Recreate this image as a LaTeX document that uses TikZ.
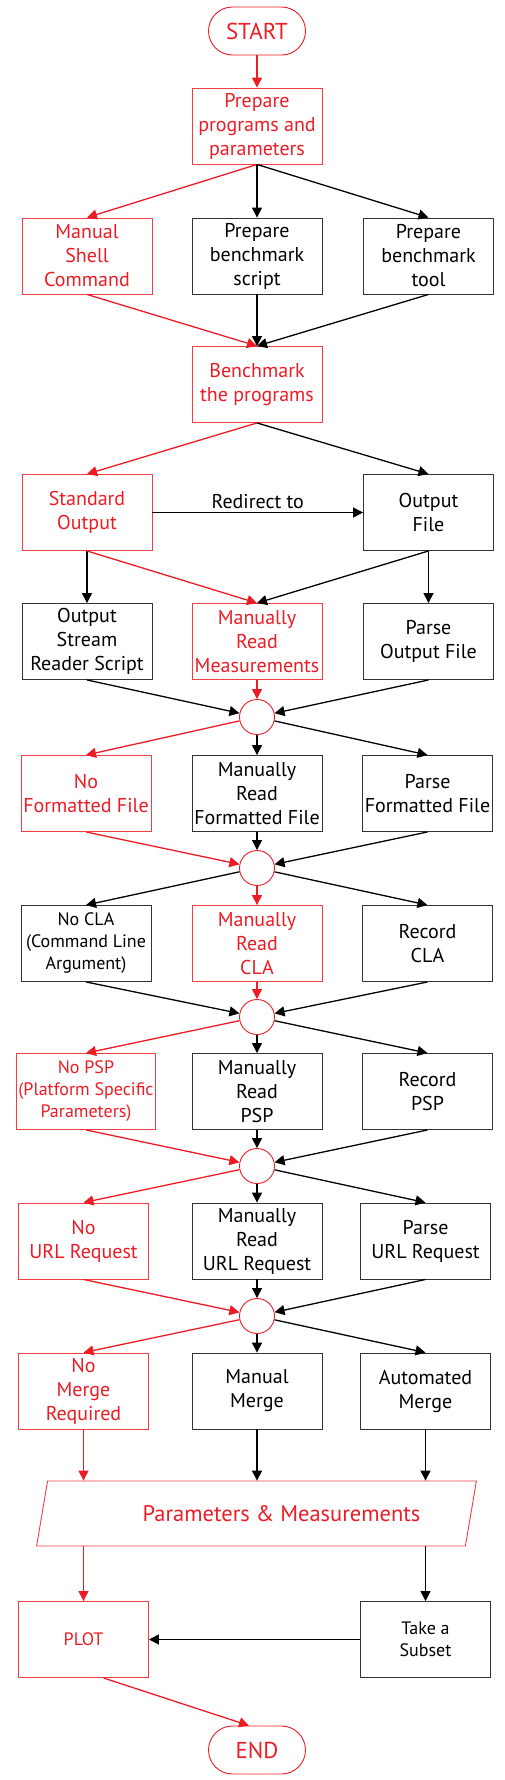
\documentclass[tikz,border=0pt]{standalone}
\usepackage{fontspec}
\setmainfont{PT Sans}
\usetikzlibrary{arrows.meta, shapes.geometric}
\definecolor{myred}{RGB}{237, 28, 36}
\tikzset{
  stepbox/.style={
    draw=black!80, rectangle, line width=0.9pt,
    minimum width=130pt, minimum height=76pt, inner sep=2pt,
    align=center, font=\fontsize{20}{24}\selectfont
  },
  redbox/.style={
    stepbox, draw=myred!85, text=myred
  },
  smalltext/.style={
    font=\fontsize{18}{22}\selectfont
  },
  joint/.style={
    circle, draw=myred, line width=0.9pt, minimum size=35pt, inner sep=0pt
  },
  terminal/.style={
    rectangle, draw=myred, rounded corners=24pt, line width=0.9pt, text=myred,
    minimum width=97pt, minimum height=48pt, font=\fontsize{23}{27}\selectfont
  },
  databox/.style={
    trapezium, trapezium left angle=69, trapezium right angle=111,
    trapezium stretches=true, draw=myred!85, text=myred, line width=0.9pt,
    minimum width=440pt, minimum height=65pt, font=\fontsize{22.5}{26}\selectfont
  },
  arrow/.style={
    -{Triangle[length=10pt, width=10pt]}, line width=1.3pt
  },
  redarrow/.style={
    arrow, myred
  }
}
\begin{document}
\begin{tikzpicture}[x=1pt, y=-1pt]
\useasboundingbox (0,0) rectangle (504,1780);
\node[terminal] (start) at (257,31) {START};
\node[redbox] (prep) at (257,126) {Prepare\\programs and\\parameters};
\node[redbox] (shell) at (87,256) {Manual\\Shell\\Command};
\node[stepbox] (bscript) at (257,256) {Prepare\\benchmark\\script};
\node[stepbox] (btool) at (428.5,256) {Prepare\\benchmark\\tool};
\node[redbox] (bench) at (257,384.5) {Benchmark\\the programs};
\node[redbox] (stdout) at (87,512.5) {Standard\\Output};
\node[stepbox] (outfile) at (428.5,512.5) {Output\\File};
\node[stepbox] (reader) at (87,641.5) {Output\\Stream\\Reader Script};
\node[redbox] (readmeas) at (257,641.5) {Manually\\Read\\Measurements};
\node[stepbox] (parseout) at (428.5,641.5) {Parse\\Output File};
\node[joint] (j1) at (257,717) {};
\node[redbox] (nofmt) at (86,793.5) {No\\Formatted File};
\node[stepbox] (readfmt) at (257,793.5) {Manually\\Read\\Formatted File};
\node[stepbox] (parsefmt) at (427.5,793.5) {Parse\\Formatted File};
\node[joint] (j2) at (257,868) {};
\node[stepbox, smalltext] (nocla) at (86,943.5) {No CLA\\(Command Line\\Argument)};
\node[redbox] (readcla) at (257,943.5) {Manually\\Read\\CLA};
\node[stepbox] (reccla) at (427.5,943.5) {Record\\CLA};
\node[joint] (j3) at (257,1017) {};
\node[redbox, smalltext] (nopsp) at (86,1091.5) {No PSP\\(Platform Specific\\Parameters)};
\node[stepbox] (readpsp) at (257,1091.5) {Manually\\Read\\PSP};
\node[stepbox] (recpsp) at (427.5,1091.5) {Record\\PSP};
\node[joint] (j4) at (257,1166) {};
\node[redbox] (nourl) at (83.5,1241) {No\\URL Request};
\node[stepbox] (readurl) at (257,1241) {Manually\\Read\\URL Request};
\node[stepbox] (parseurl) at (425.5,1241) {Parse\\URL Request};
\node[joint] (j5) at (257,1316) {};
\node[redbox] (nomerge) at (83.5,1391) {No\\Merge\\Required};
\node[stepbox] (manmerge) at (257,1391) {Manual\\Merge};
\node[stepbox] (automerge) at (425.5,1391) {Automated\\Merge};
\node[databox] (params) at (256.5,1513.5) {\hspace*{50pt}Parameters \& Measurements};
\node[redbox, smalltext] (plot) at (83.5,1639.5) {PLOT};
\node[stepbox, smalltext] (subset) at (425.5,1639.5) {Take a\\Subset};
\node[terminal] (end) at (257,1750) {END};
\draw[redarrow] (start) -- (prep);
\draw[redarrow] (prep.south) -- (shell.north);
\draw[arrow] (prep.south) -- (bscript.north);
\draw[arrow] (prep.south) -- (btool.north);
\draw[redarrow] (shell.south) -- (bench.north);
\draw[arrow] (bscript.south) -- (bench.north);
\draw[arrow] (btool.south) -- (bench.north);
\draw[redarrow] (bench.south) -- (stdout.north);
\draw[arrow] (bench.south) -- (outfile.north);
\draw[arrow] (stdout) -- node[above, font=\fontsize{20}{24}\selectfont] {Redirect to} (outfile);
\draw[arrow] (stdout.south) -- (reader.north);
\draw[redarrow] (stdout.south) -- (readmeas.north);
\draw[arrow] (outfile.south) -- (readmeas.north);
\draw[arrow] (outfile.south) -- (parseout.north);
\draw[arrow] (reader.south) -- (j1);
\draw[redarrow] (readmeas.south) -- (j1);
\draw[arrow] (parseout.south) -- (j1);
\draw[redarrow] (j1) -- (nofmt.north);
\draw[arrow] (j1) -- (readfmt.north);
\draw[arrow] (j1) -- (parsefmt.north);
\draw[redarrow] (nofmt.south) -- (j2);
\draw[arrow] (readfmt.south) -- (j2);
\draw[arrow] (parsefmt.south) -- (j2);
\draw[arrow] (j2) -- (nocla.north);
\draw[redarrow] (j2) -- (readcla.north);
\draw[arrow] (j2) -- (reccla.north);
\draw[arrow] (nocla.south) -- (j3);
\draw[redarrow] (readcla.south) -- (j3);
\draw[arrow] (reccla.south) -- (j3);
\draw[redarrow] (j3) -- (nopsp.north);
\draw[arrow] (j3) -- (readpsp.north);
\draw[arrow] (j3) -- (recpsp.north);
\draw[redarrow] (nopsp.south) -- (j4);
\draw[arrow] (readpsp.south) -- (j4);
\draw[arrow] (recpsp.south) -- (j4);
\draw[redarrow] (j4) -- (nourl.north);
\draw[arrow] (j4) -- (readurl.north);
\draw[arrow] (j4) -- (parseurl.north);
\draw[redarrow] (nourl.south) -- (j5);
\draw[arrow] (readurl.south) -- (j5);
\draw[arrow] (parseurl.south) -- (j5);
\draw[redarrow] (j5) -- (nomerge.north);
\draw[arrow] (j5) -- (manmerge.north);
\draw[arrow] (j5) -- (automerge.north);
\draw[redarrow] (nomerge.south) -- (nomerge.south |- params.north);
\draw[arrow] (manmerge.south) -- (manmerge.south |- params.north);
\draw[arrow] (automerge.south) -- (automerge.south |- params.north);
\draw[redarrow] (plot.north |- params.south) -- (plot.north);
\draw[arrow] (subset.north |- params.south) -- (subset.north);
\draw[arrow] (subset) -- (plot);
\draw[redarrow] ([xshift=20pt]plot.south) -- ([xshift=-8pt]end.north);
\end{tikzpicture}
\end{document}
